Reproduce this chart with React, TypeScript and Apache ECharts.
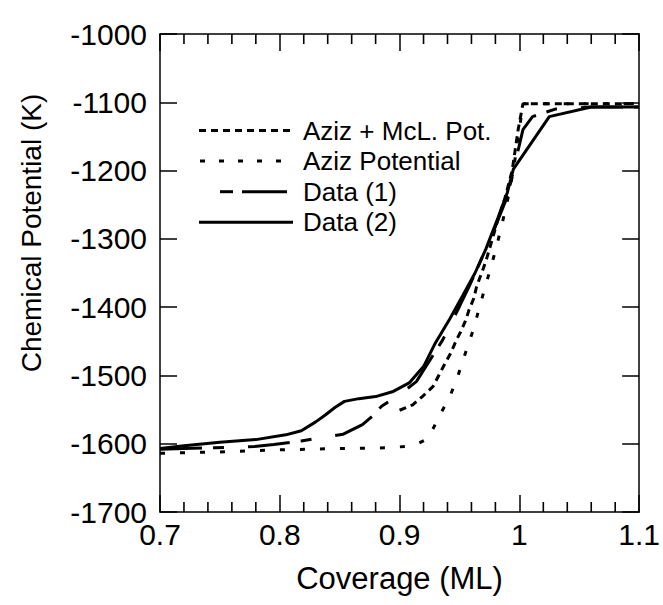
import React, { useEffect, useRef } from "react";
import * as echarts from "echarts";

// ---- data ----
const xTickValues = [0.7, 0.8, 0.9, 1.0, 1.1];
const yTickValues = [-1700, -1600, -1500, -1400, -1300, -1200, -1100, -1000];
const xMinorTickValues = [0.72, 0.74, 0.76, 0.78, 0.82, 0.84, 0.86, 0.88, 0.92, 0.94, 0.96, 0.98, 1.02, 1.04, 1.06, 1.08];

const seriesNames = ["Aziz + McL. Pot.", "Aziz Potential", "Data (1)", "Data (2)"];

const azizMcLX = [0.9, 0.911, 0.919, 0.928, 0.933, 0.9375, 0.9425, 0.947, 0.951, 0.955, 0.958, 0.962, 0.964, 0.967, 0.97, 0.973, 0.978, 0.982, 0.988, 0.994, 0.999, 1.003, 1.1];
const azizMcLY = [-1551, -1543, -1531, -1516, -1499, -1484, -1468, -1450, -1436, -1420, -1404, -1387, -1372, -1357, -1343, -1327, -1297, -1272, -1240, -1200, -1140, -1102, -1102];

const azizPotX = [0.7, 0.75, 0.8, 0.85, 0.89, 0.905, 0.915, 0.922, 0.928, 0.933, 0.942, 0.949, 0.955, 0.961, 0.966, 0.971, 0.976, 0.981, 0.985, 0.99, 0.995, 1.0, 1.003, 1.1];
const azizPotY = [-1614, -1612, -1609, -1607, -1606, -1604, -1600, -1594, -1578, -1560, -1531, -1499, -1467, -1436, -1405, -1373, -1343, -1311, -1282, -1245, -1200, -1140, -1102, -1102];

const data1X = [0.7, 0.72, 0.746, 0.779, 0.795, 0.818, 0.835, 0.853, 0.861, 0.869, 0.877, 0.885, 0.9, 0.914, 0.922, 0.936, 0.95, 0.958, 0.967, 0.98, 0.99, 0.995, 1.003, 1.011, 1.03, 1.06, 1.1];
const data1Y = [-1608, -1607, -1606, -1604, -1601, -1596, -1591, -1586, -1579, -1572, -1560, -1545, -1528, -1509, -1487, -1448, -1399, -1370, -1335, -1282, -1238, -1200, -1140, -1121, -1110, -1107, -1107];

const data2X = [0.7, 0.72, 0.75, 0.78, 0.805, 0.818, 0.83, 0.838, 0.846, 0.854, 0.866, 0.88, 0.894, 0.908, 0.92, 0.93, 0.942, 0.953, 0.963, 0.972, 0.982, 0.99, 0.995, 1.025, 1.06, 1.1];
const data2Y = [-1607, -1603, -1598, -1594, -1587, -1581, -1568, -1558, -1547, -1538, -1534, -1531, -1524, -1511, -1487, -1452, -1417, -1382, -1350, -1315, -1270, -1232, -1198, -1121, -1107, -1107];

const FONT = "'Liberation Sans', Arial, Helvetica, sans-serif";

const pairs = (xs: number[], ys: number[]) => xs.map((x, i) => [x, ys[i]]);

const lineStyles: any[] = [
  { color: "#000", width: 3, type: [7, 5] },
  { color: "#000", width: 3, type: [5, 15] },
  { color: "#000", width: 3, type: [42, 11, 11, 24] },
  { color: "#000", width: 3, type: "solid" },
];

export default function App() {
  const ref = useRef<HTMLDivElement>(null);

  useEffect(() => {
    if (!ref.current) return;
    const chart = echarts.init(ref.current, null, { renderer: "svg" });

    const xFmt = (v: number) => String(Math.round(v * 10) / 10);
    const yFmt = (v: number) => String(Math.round(v));

    const xMin = xTickValues[0];
    const xMax = xTickValues[xTickValues.length - 1];
    const yMin = yTickValues[0];
    const yMax = yTickValues[yTickValues.length - 1];

    const commonX = {
      type: "value",
      min: xMin,
      max: xMax,
      interval: 0.1,
      splitLine: { show: false },
      axisLine: { show: true, onZero: false, lineStyle: { color: "#000", width: 1.5 } },
      axisTick: { show: true, inside: true, length: 17, lineStyle: { color: "#000", width: 1.5 } },
    };
    const commonY = {
      type: "value",
      min: yMin,
      max: yMax,
      interval: 100,
      splitLine: { show: false },
      axisLine: { show: true, onZero: false, lineStyle: { color: "#000", width: 1.5 } },
      axisTick: { show: true, inside: true, length: 17, lineStyle: { color: "#000", width: 1.5 } },
    };

    const seriesData = [
      pairs(azizMcLX, azizMcLY),
      pairs(azizPotX, azizPotY),
      pairs(data1X, data1Y),
      pairs(data2X, data2Y),
    ];

    const legendYs = [130.5, 161, 191.7, 222.3];
    const legendGraphics: any[] = [];
    legendGraphics.push({ type: "line", shape: { x1: 199, y1: legendYs[0], x2: 293, y2: legendYs[0] }, style: { stroke: "#000", lineWidth: 3, lineDash: [7, 5] } });
    legendGraphics.push({ type: "line", shape: { x1: 200, y1: legendYs[1], x2: 293, y2: legendYs[1] }, style: { stroke: "#000", lineWidth: 3, lineDash: [5, 14] } });
    legendGraphics.push({ type: "line", shape: { x1: 220, y1: legendYs[2], x2: 233, y2: legendYs[2] }, style: { stroke: "#000", lineWidth: 3 } });
    legendGraphics.push({ type: "line", shape: { x1: 242, y1: legendYs[2], x2: 287, y2: legendYs[2] }, style: { stroke: "#000", lineWidth: 3 } });
    legendGraphics.push({ type: "line", shape: { x1: 199, y1: legendYs[3], x2: 293, y2: legendYs[3] }, style: { stroke: "#000", lineWidth: 3 } });
    seriesNames.forEach((n, i) => {
      legendGraphics.push({
        type: "text",
        x: 303,
        y: legendYs[i],
        style: { text: n, fill: "#000", font: `26px ${FONT}`, verticalAlign: "middle", align: "left" },
      });
    });

    const lineSeries = seriesNames.map((n, i) => ({
      name: n,
      type: "line",
      xAxisIndex: 0,
      yAxisIndex: 0,
      data: seriesData[i],
      showSymbol: false,
      symbol: "none",
      clip: true,
      lineStyle: lineStyles[i],
      emphasis: { disabled: true },
      z: 2,
    }));

    // minor x ticks drawn by a custom series through the axis scales
    const minorTickSeries = {
      type: "custom",
      name: "minorTicks",
      xAxisIndex: 0,
      yAxisIndex: 0,
      silent: true,
      clip: false,
      z: 5,
      data: xMinorTickValues.map((v) => [v, yMin]),
      encode: { x: 0, y: 1 },
      renderItem: (params: any, api: any) => {
        const bottom = api.coord([api.value(0), yMin]);
        const top = api.coord([api.value(0), yMax]);
        const x = bottom[0];
        return {
          type: "group",
          children: [
            { type: "line", shape: { x1: x, y1: bottom[1], x2: x, y2: bottom[1] - 10 }, style: { stroke: "#000", lineWidth: 1.6 } },
            { type: "line", shape: { x1: x, y1: top[1], x2: x, y2: top[1] + 10 }, style: { stroke: "#000", lineWidth: 1.6 } },
          ],
        };
      },
    };

    chart.setOption({
      animation: false,
      backgroundColor: "#fff",
      textStyle: { fontFamily: FONT },
      grid: { left: 160, right: 23, top: 34, bottom: 93, containLabel: false },
      xAxis: [
        {
          ...commonX,
          position: "bottom",
          axisLabel: { show: true, color: "#000", fontSize: 30, fontFamily: FONT, margin: 7, formatter: xFmt },
          name: "Coverage (ML)",
          nameLocation: "middle",
          nameGap: 51,
          nameTextStyle: { color: "#000", fontSize: 31, fontFamily: FONT },
        },
        {
          ...commonX,
          position: "top",
          axisLabel: { show: false },
        },
      ],
      yAxis: [
        {
          ...commonY,
          position: "left",
          axisLabel: { show: true, color: "#000", fontSize: 30, fontFamily: FONT, margin: 13, formatter: yFmt },
        },
        {
          ...commonY,
          position: "right",
          axisLabel: { show: false },
        },
      ],
      graphic: [
        {
          type: "text",
          x: 31,
          y: 233,
          rotation: Math.PI / 2,
          style: { text: "Chemical Potential (K)", fill: "#000", font: `28px ${FONT}`, align: "center", verticalAlign: "middle" },
        },
        ...legendGraphics,
      ],
      series: [...lineSeries, minorTickSeries],
    });

    return () => chart.dispose();
  }, []);

  return (
    <div
      ref={ref}
      style={{ position: "fixed", left: 0, top: 0, width: 663, height: 605, background: "#fff" }}
    />
  );
}
